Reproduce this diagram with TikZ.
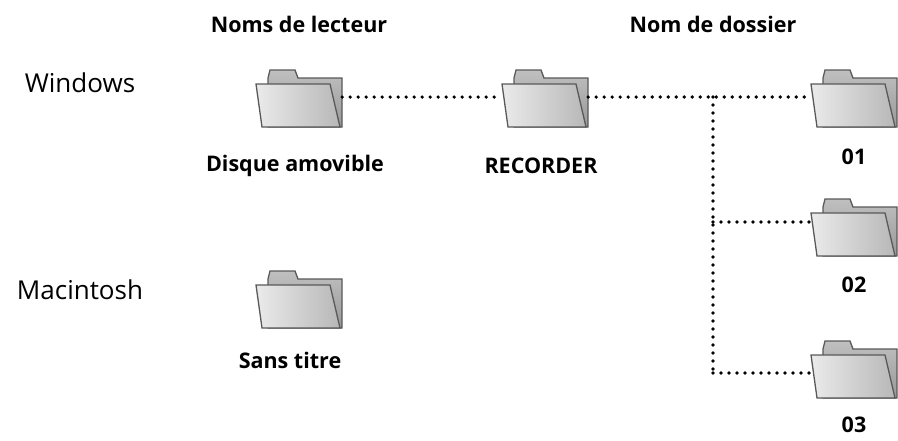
\documentclass[tikz,border=0pt]{standalone}
\usepackage{fontspec}
\setmainfont{Open Sans}
\usetikzlibrary{positioning}
\tikzset{
    folder/.pic={
        \draw[black!65, line width=1.3pt, top color=black!25, bottom color=black!40]
            (-31,-21) -- (-29,-29) -- (-4,-29) -- (-1,-21)
            -- (43,-21) -- (43,28) -- (-31,28) -- cycle;
        \draw[black!65, line width=1.3pt, left color=black!8, right color=black!28]
            (-43,-15) -- (31,-15) -- (41,28) -- (-37,28) -- cycle;
        \node[inner sep=0, minimum width=86, minimum height=58] (-box) {};
    },
    link/.style={line width=3.6pt, line cap=round, dash pattern=on 0pt off 8pt},
    label/.style={font=\bfseries\fontsize{21.5}{24}\selectfont},
    system/.style={font=\fontsize{26}{30}\selectfont}
}
\begin{document}
\begin{tikzpicture}[x=1pt, y=-1pt]
\useasboundingbox (0,0) rectangle (898,440);

\node[label] (h-drive) at (299,24) {Noms de lecteur};
\node[label] (h-dir) at (713,24) {Nom de dossier};
\node[system] (win) at (80,83) {Windows};
\node[system] (mac) at (80,290) {Macintosh};

\pic (disk) at (299,99) {folder};
\pic (rec) at (545,99) {folder};
\pic (d1) at (854,99) {folder};
\pic (d2) at (854,228) {folder};
\pic (d3) at (854,370) {folder};
\pic (mdisk) at (299,300) {folder};

\node[label] (l-disk) at (295,166) {Disque amovible};
\node[label] (l-rec) at (541,166) {RECORDER};
\node[label] (l-d1) at (854,157) {01};
\node[label] (l-d2) at (854,285) {02};
\node[label] (l-d3) at (854,425) {03};
\node[label] (l-mdisk) at (290,360) {Sans titre};

% dotted tree
\coordinate (fork) at (713,97);
\coordinate (j2) at (713,222);
\coordinate (j3) at (713,373);
\draw[link] (disk-box.east |- 0,97) -- (rec-box.west |- 0,97);
\draw[link] (rec-box.east |- 0,97) -- (d1-box.west |- 0,97);
\draw[link] (fork) -- (j3);
\draw[link] (j2) -- (d2-box.west |- j2);
\draw[link] (j3) -- (d3-box.west |- j3);
\end{tikzpicture}
\end{document}
